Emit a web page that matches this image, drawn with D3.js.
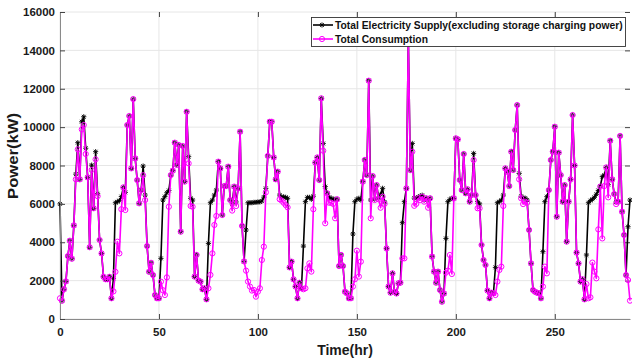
<!DOCTYPE html>
<html><head><meta charset="utf-8">
<script src="https://cdn.jsdelivr.net/npm/d3@7"></script>
<style>body{margin:0;background:#fff;} svg{display:block;font-family:"Liberation Sans",Arial,sans-serif;}</style>
</head><body><svg id="c" width="632" height="360"></svg>
<script>
// Total Consumption (kW), hourly t = 0..288
const consumption = [
 1080, 950, 1550, 1960, 3280, 4080, 3140, 4880, 7280, 8840, 7280, 9880,
 10110, 8600, 7380, 3740, 7770, 5770, 8320, 6400, 4120, 3420, 2200, 2070,
 2070, 2200, 1080, 1440, 2460, 4030, 3420, 5720, 6860, 5680, 10110, 10580,
 7850, 11460, 8370, 7240, 6030, 6720, 7490, 6200, 3800, 2460, 2930, 2290,
 1250, 1080, 1080, 1946, 1500, 1250, 2170, 5850, 7500, 7730, 9190, 8030,
 9070, 4550, 9016, 7160, 10800, 8110, 5890, 5850, 2210, 3340, 2000, 1946,
 1550, 1600, 1025, 1600, 2300, 3420, 4900, 5370, 8200, 7850, 5420, 6930,
 6930, 7940, 6200, 5650, 6900, 5890, 6810, 9760, 4850, 3000, 2520, 1950,
 1690, 1480, 1510, 1165, 1425, 1600, 3076, 3770, 6600, 8500, 10280, 10280,
 8420, 7280, 7680, 6240, 6170, 6060, 5940, 5820, 2690, 2990, 2070, 1690,
 1080, 1890, 1600, 1550, 1600, 2640, 2900, 2470, 5720, 8150, 8420, 7240,
 11500, 8770, 4990, 6550, 6060, 6060, 6000, 5250, 6240, 2760, 3340, 2760,
 1420, 1340, 1080, 1080, 1690, 2070, 3560, 2210, 2990, 7160, 8290, 7500,
 12420, 5250, 7450, 6200, 6980, 6235, 5800, 6375, 6000, 3680, 1690, 1370,
 2380, 1420, 1330, 1860, 1890, 3160, 3160, 6810, 14600, 7760, 8720, 5900,
 6000, 6290, 6200, 6375, 6115, 6290, 5800, 6290, 3250, 2470, 1890, 2470,
 1510, 900, 1330, 2415, 2520, 3335, 2345, 6290, 9415, 9363, 7245, 6720,
 8600, 6550, 6760, 6115, 6460, 8285, 6460, 5770, 5770, 3860, 3075, 2815,
 1480, 1080, 1370, 1340, 1250, 1950, 2555, 2730, 5890, 7850, 7680, 6930,
 8720, 7765, 9850, 11150, 7280, 6290, 5990, 6115, 6060, 4640, 2900, 1510,
 1420, 1370, 1340, 1080, 1690, 2730, 2380, 6720, 8285, 8720, 10020, 5330,
 8670, 7500, 6115, 6980, 4030, 6115, 7280, 10630, 8000, 3460, 2900, 1950,
 2070, 1025, 1820, 1080, 1130, 2940, 2470, 2120, 4670, 6900, 4200, 6930,
 7900, 6340, 9290, 7280, 6515, 5990, 6115, 9540, 5590, 4380, 2290, 2030,
 955
];
// Total Electricity Supply excluding storage charging power (kW), hourly t = 0..288
const supply = [
 6000, 950, 1550, 1960, 3280, 4080, 3140, 4880, 7550, 9190, 7280, 10280,
 10540, 8900, 7380, 3740, 8020, 5770, 8720, 6530, 4120, 3420, 2200, 2070,
 2070, 2200, 1080, 2120, 6060, 6110, 6170, 6380, 6860, 6600, 10110, 10580,
 7850, 11460, 8370, 7240, 6030, 6720, 7970, 6460, 3800, 2460, 2930, 2290,
 1250, 1080, 1080, 3160, 6200, 6380, 6580, 6700, 7500, 7730, 9190, 8030,
 9070, 4550, 9016, 7160, 10800, 8460, 6290, 6200, 2210, 3340, 2000, 1946,
 1550, 1600, 1025, 3940, 6060, 6200, 6460, 6720, 8200, 7850, 5420, 6930,
 6930, 7940, 6200, 6000, 6900, 6100, 6810, 9760, 4850, 3000, 4640, 6060,
 6060, 6060, 6080, 6080, 6100, 6100, 6150, 6350, 6810, 8500, 10280, 10280,
 8420, 7280, 7680, 6460, 6340, 6370, 6340, 6290, 2690, 2990, 2070, 1690,
 1080, 1890, 1600, 3800, 6115, 6340, 6340, 6240, 6400, 8150, 8420, 7240,
 11500, 9150, 6900, 6550, 6340, 6290, 6240, 6240, 6240, 2760, 3340, 2760,
 1420, 1340, 1080, 1080, 4430, 6115, 6240, 6290, 6200, 7160, 8290, 7500,
 12420, 6200, 7450, 6250, 6980, 6300, 6500, 6810, 6100, 3680, 1690, 1370,
 2380, 1420, 1330, 1860, 1890, 5020, 6115, 6810, 14600, 7760, 9150, 6300,
 6300, 6350, 6400, 6450, 6200, 6300, 6200, 6300, 3250, 2470, 1890, 2470,
 1510, 900, 1330, 4200, 6115, 6235, 6290, 6290, 9415, 9363, 7245, 6720,
 8600, 6550, 6760, 6115, 6460, 8630, 6460, 6115, 6000, 3860, 3075, 2815,
 1480, 1080, 1370, 1340, 2690, 6060, 6115, 6200, 6460, 7850, 7680, 6930,
 8720, 7765, 9850, 11150, 7590, 6400, 6300, 6300, 6200, 4640, 2900, 1510,
 1420, 1370, 1340, 1080, 3510, 6115, 6375, 6720, 8285, 8720, 10020, 5330,
 8670, 7500, 6115, 6980, 4030, 6115, 7280, 10630, 8000, 3460, 2900, 1950,
 2070, 1025, 3335, 6060, 6170, 6240, 6340, 6500, 6700, 6930, 7420, 7500,
 7900, 7000, 9290, 7280, 6515, 6100, 6115, 9540, 5590, 4380, 2290, 4810,
 6200
];
const xTicks = [0, 50, 100, 150, 200, 250];
const yTicks = [0, 2000, 4000, 6000, 8000, 10000, 12000, 14000, 16000];
const seriesNames = ["Total Electricity Supply(excluding storage charging power)", "Total Consumption"];
const xLabel = "Time(hr)";
const yLabel = "Power(kW)";

const svg = d3.select("#c");
const L = 60, R = 630, T = 12, B = 319;
const x = d3.scaleLinear().domain([0, 288]).range([L, R]);
const y = d3.scaleLinear().domain([0, 16000]).range([B, T]);

// grid
const grid = svg.append("g");
grid.selectAll(".gx").data(xTicks).join("line")
  .attr("x1", d => x(d)).attr("x2", d => x(d)).attr("y1", T).attr("y2", B)
  .attr("stroke", "#e6e6e6").attr("stroke-width", 1);
grid.selectAll(".gy").data(yTicks).join("line")
  .attr("x1", L).attr("x2", R).attr("y1", d => y(d)).attr("y2", d => y(d))
  .attr("stroke", "#e6e6e6").attr("stroke-width", 1);

// top / right ticks (no box line)
svg.append("g").attr("transform", `translate(0,${T})`)
  .call(d3.axisTop(x).tickValues(xTicks).tickSizeInner(-5).tickSizeOuter(0).tickFormat(""))
  .call(g => { g.select(".domain").remove(); g.selectAll("line").attr("stroke", "#444"); });
svg.append("g").attr("transform", `translate(${R},0)`)
  .call(d3.axisRight(y).tickValues(yTicks).tickSizeInner(-5).tickSizeOuter(0).tickFormat(""))
  .call(g => { g.select(".domain").remove(); g.selectAll("line").attr("stroke", "#444"); });

// lines
const lineS = d3.line().x((d, i) => x(i)).y(d => y(d));
svg.append("path").datum(supply).attr("d", lineS)
  .attr("fill", "none").attr("stroke", "#000").attr("stroke-width", 1.6).attr("stroke-linejoin", "round");
const star = "M-2.6,0H2.6M0,-2.6V2.6M-1.9,-1.9L1.9,1.9M-1.9,1.9L1.9,-1.9";
svg.append("g").selectAll("path").data(supply).join("path")
  .attr("transform", (d, i) => `translate(${x(i)},${y(d)})`)
  .attr("d", star).attr("stroke", "#000").attr("stroke-width", 0.9).attr("fill", "none");

svg.append("path").datum(consumption).attr("d", lineS)
  .attr("fill", "none").attr("stroke", "#ff00ff").attr("stroke-width", 1.6).attr("stroke-linejoin", "round");
svg.append("g").selectAll("circle").data(consumption).join("circle")
  .attr("cx", (d, i) => x(i)).attr("cy", d => y(d)).attr("r", 2.6)
  .attr("fill", "none").attr("stroke", "#ff00ff").attr("stroke-width", 1);

// axes
const ax = svg.append("g").attr("transform", `translate(0,${B})`)
  .call(d3.axisBottom(x).tickValues(xTicks).tickFormat(d3.format("d")).tickSizeInner(-5).tickSizeOuter(0).tickPadding(9));
const ay = svg.append("g").attr("transform", `translate(${L},0)`)
  .call(d3.axisLeft(y).tickValues(yTicks).tickFormat(d3.format("d")).tickSizeInner(-5).tickSizeOuter(0).tickPadding(5));
[ax, ay].forEach(g => {
  g.select(".domain").attr("stroke", "#8a8a8a").attr("stroke-width", 1);
  g.selectAll(".tick line").attr("stroke", "#444");
  g.selectAll("text").attr("font-family", "Liberation Sans, Arial, sans-serif")
    .attr("font-size", 11.5).attr("font-weight", "bold").attr("fill", "#1a1a1a");
});

// fit a text to a target length by scaling along its run direction
function fitText(sel, target) {
  const n = sel.node().getComputedTextLength();
  return n > 0 ? target / n : 1;
}

svg.append("text").attr("x", 345).attr("y", 355).attr("text-anchor", "middle")
  .attr("font-size", 14).attr("font-weight", "bold").attr("fill", "#1a1a1a").text(xLabel);

const yl = svg.append("g").attr("transform", `translate(18,156) rotate(-90)`);
const ylt = yl.append("text").attr("text-anchor", "middle")
  .attr("font-size", 14).attr("font-weight", "bold").attr("fill", "#1a1a1a").text(yLabel);
ylt.attr("transform", `scale(${fitText(ylt, 86)},1)`);

// legend
const lg = svg.append("g");
lg.append("rect").attr("x", 311.5).attr("y", 17.5).attr("width", 314).attr("height", 29)
  .attr("fill", "#fff").attr("stroke", "#333").attr("stroke-width", 0.9);
const legendRows = [
  { name: seriesNames[0], color: "#000", mark: "star", yy: 25, w: 288 },
  { name: seriesNames[1], color: "#ff00ff", mark: "circle", yy: 39, w: 93 }
];
legendRows.forEach(r => {
  lg.append("line").attr("x1", 313).attr("x2", 333).attr("y1", r.yy).attr("y2", r.yy)
    .attr("stroke", r.color).attr("stroke-width", 1.6);
  if (r.mark === "star") lg.append("path").attr("d", star).attr("transform", `translate(322,${r.yy})`)
    .attr("stroke", r.color).attr("stroke-width", 0.9).attr("fill", "none");
  else lg.append("circle").attr("cx", 322).attr("cy", r.yy).attr("r", 2.6)
    .attr("fill", "none").attr("stroke", r.color).attr("stroke-width", 1);
  const g = lg.append("g").attr("transform", `translate(335,${r.yy + 4})`);
  const t = g.append("text").attr("font-size", 11.5).attr("font-weight", "bold")
    .attr("fill", "#111").text(r.name);
  t.attr("transform", `scale(${fitText(t, r.w)},1)`);
});
</script></body></html>
